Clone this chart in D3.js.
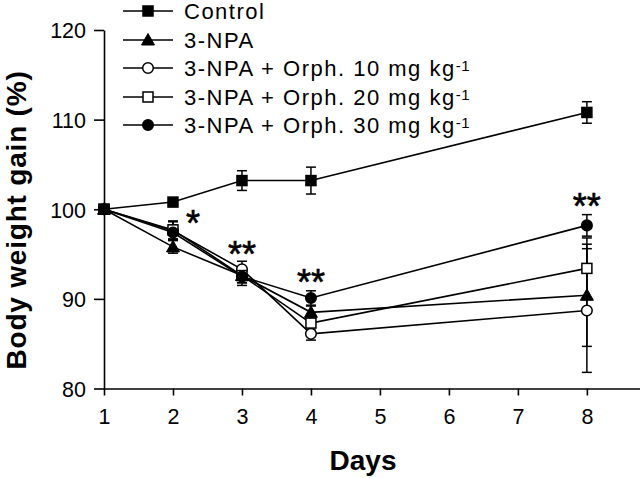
<!DOCTYPE html>
<html><head><meta charset="utf-8">
<script src="https://cdn.jsdelivr.net/npm/d3@7"></script>
<style>body{margin:0;background:#fff}svg{display:block}</style>
</head><body>
<svg id="c" width="640" height="478"></svg>
<script>
const days = [1, 2, 3, 4, 8];
const xTicks = [1, 2, 3, 4, 5, 6, 7, 8];
const yTicks = [80, 90, 100, 110, 120];
const seriesNames = ["Control", "3-NPA", "3-NPA + Orph. 10 mg kg", "3-NPA + Orph. 20 mg kg", "3-NPA + Orph. 30 mg kg"];
const seriesSymbols = ["squareFilled", "triangle", "circleOpen", "squareOpen", "circleFilled"];
const control = [100, 100.8, 103.2, 103.2, 110.8];
const controlErr = [0, 0.3, 1.1, 1.5, 1.2];
const npa = [100, 95.8, 92.6, 88.5, 90.4];
const npaErr = [0, 0.7, 0.8, 0.7, 5.7];
const orph10 = [100, 97.6, 93.3, 86.1, 88.7];
const orph10Err = [0, 1.0, 0.9, 0.7, 6.9];
const orph20 = [100, 97.7, 92.6, 87.3, 93.4];
const orph20Err = [0, 1.0, 0.8, 0.8, 3.4];
const orph30 = [100, 97.4, 92.5, 90.1, 98.2];
const orph30Err = [0, 0.8, 1.0, 0.8, 1.2];
const sigDays = [2, 3, 4, 8];
const sigLabels = ["*", "**", "**", "**"];
const sigValues = [99.1, 95.7, 92.6, 101.0];

const seriesVals = [control, npa, orph10, orph20, orph30];
const seriesErrs = [controlErr, npaErr, orph10Err, orph20Err, orph30Err];

const svg = d3.select("#c");
const font = "Liberation Sans, Arial, sans-serif";
const x = d3.scaleLinear().domain([1, 8.77]).range([104, 640]);
const y = d3.scaleLinear().domain([80, 120]).range([388.5, 30]);

// axes
const xAxis = svg.append("g").attr("transform", "translate(0,388.5)")
  .call(d3.axisBottom(x).tickValues(xTicks).tickSize(7).tickSizeOuter(0).tickFormat(d3.format("d")));
const yAxis = svg.append("g").attr("transform", "translate(104,0)")
  .call(d3.axisLeft(y).tickValues(yTicks).tickSize(10).tickSizeOuter(0).tickFormat(d3.format("d")));
[xAxis, yAxis].forEach(g => {
  g.select(".domain").attr("stroke", "#000").attr("stroke-width", 1.6);
  g.selectAll(".tick line").attr("stroke", "#000").attr("stroke-width", 1.6);
  g.selectAll("text").attr("font-family", font).attr("font-size", 21.5).attr("fill", "#000");
});
xAxis.selectAll("text").attr("dy", "0").attr("y", 35.5);
yAxis.selectAll("text").attr("x", -18).attr("dy", "0.36em");

// axis titles
svg.append("text").attr("x", 363).attr("y", 470).attr("text-anchor", "middle")
  .attr("font-family", font).attr("font-weight", "bold").attr("font-size", 28).text("Days");
svg.append("text").attr("transform", "translate(26,220) rotate(-90)").attr("text-anchor", "middle")
  .attr("font-family", font).attr("font-weight", "bold").attr("font-size", 28)
  .attr("letter-spacing", 0.8).text("Body weight gain (%)");

const line = d3.line().x((d, i) => x(days[i])).y(d => y(d));

function drawSymbol(g, type, cx, cy) {
  if (type === "squareFilled" || type === "squareOpen") {
    g.append("rect").attr("x", cx - 5).attr("y", cy - 5).attr("width", 10).attr("height", 10)
      .attr("fill", type === "squareFilled" ? "#000" : "#fff").attr("stroke", "#000").attr("stroke-width", 1.5);
  } else if (type === "circleFilled" || type === "circleOpen") {
    g.append("circle").attr("cx", cx).attr("cy", cy).attr("r", 5.3)
      .attr("fill", type === "circleFilled" ? "#000" : "#fff").attr("stroke", "#000").attr("stroke-width", 1.5);
  } else {
    g.append("path").attr("d", `M${cx},${cy - 6.5}L${cx + 6.5},${cy + 5}L${cx - 6.5},${cy + 5}Z`)
      .attr("fill", "#000").attr("stroke", "#000").attr("stroke-width", 1);
  }
}

// lines
seriesVals.forEach(vals => {
  svg.append("path").attr("d", line(vals)).attr("fill", "none").attr("stroke", "#000").attr("stroke-width", 1.6);
});
// error bars
seriesVals.forEach((vals, s) => {
  vals.forEach((v, i) => {
    const e = seriesErrs[s][i];
    if (!e) return;
    const cx = x(days[i]);
    const g = svg.append("g").attr("stroke", "#000").attr("stroke-width", 1.5);
    g.append("line").attr("x1", cx).attr("x2", cx).attr("y1", y(v - e)).attr("y2", y(v + e));
    [v - e, v + e].forEach(t => g.append("line").attr("x1", cx - 5).attr("x2", cx + 5).attr("y1", y(t)).attr("y2", y(t)));
  });
});
// markers
seriesVals.forEach((vals, s) => {
  const g = svg.append("g");
  vals.forEach((v, i) => drawSymbol(g, seriesSymbols[s], x(days[i]), y(v)));
});

// significance
sigDays.forEach((d, i) => {
  svg.append("text").attr("x", x(d) + (sigLabels[i] === "*" ? 20 : 0)).attr("y", y(sigValues[i]) + 19)
    .attr("text-anchor", "middle").attr("font-family", font).attr("font-size", 36)
    .attr("stroke", "#000").attr("stroke-width", 0.6).text(sigLabels[i]);
});

// legend
const legY = [11, 40, 68, 97, 125];
seriesNames.forEach((name, i) => {
  const g = svg.append("g");
  g.append("line").attr("x1", 123).attr("x2", 173).attr("y1", legY[i]).attr("y2", legY[i])
    .attr("stroke", "#000").attr("stroke-width", 1.6);
  drawSymbol(g, seriesSymbols[i], 148, legY[i]);
  const t = g.append("text").attr("x", 184).attr("y", legY[i] + 8)
    .attr("font-family", font).attr("font-size", 22).attr("letter-spacing", 1.5)
    .attr("fill", "#000").text(name);
  if (i >= 2) {
    t.append("tspan").attr("font-size", 15).attr("letter-spacing", 0.5).attr("dy", -5).text("-1");
  }
});
</script>
</body></html>
